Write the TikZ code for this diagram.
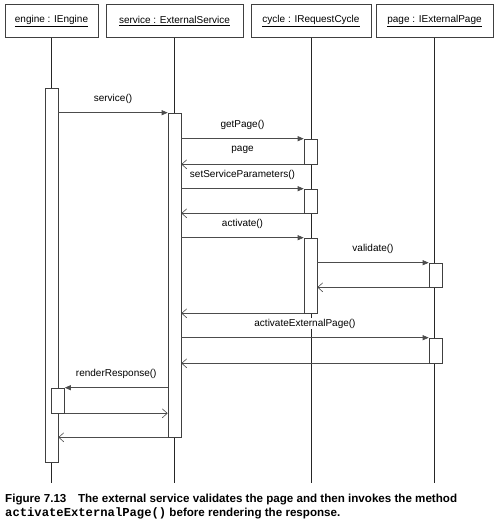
\documentclass[tikz,border=0pt]{standalone}
\usepackage{fontspec}
\setmainfont{Liberation Sans}
\setmonofont{Liberation Mono}
\usetikzlibrary{positioning,arrows.meta}

\begin{document}
\begin{tikzpicture}[
    x=1pt, y=-1pt,
    font=\fontsize{10}{12}\selectfont,
    obj/.style={rectangle, draw=black!75, line width=0.6pt, fill=white,
                minimum width=#1, minimum height=33pt, inner sep=0pt},
    act/.style={rectangle, draw=black!75, line width=0.6pt, fill=white,
                minimum width=13pt, minimum height=#1, inner sep=0pt},
    life/.style={draw=black!85, line width=0.6pt},
    call/.style={-{Triangle[length=6pt,width=5pt]}, draw=black!70, line width=0.6pt},
    ret/.style={-{Straight Barb[length=5pt,width=9pt]}, draw=black!70, line width=0.6pt},
    lbl/.style={midway, yshift=14pt, inner sep=1pt},
    captext/.style={anchor=base west, inner sep=0pt, font=\bfseries\fontsize{11.6}{14}\selectfont}
]
\useasboundingbox (0,0) rectangle (500,529);

% objects
\node[obj=93pt]  (eng) at (51.5,21)  {\underline{engine : IEngine}};
\node[obj=137pt] (svc) at (174.5,21) {\underline{service : ExternalService}};
\node[obj=120pt] (cyc) at (311,21)   {\underline{cycle : IRequestCycle}};
\node[obj=117pt] (pag) at (434.5,21) {\underline{page : IExternalPage}};

% lifelines
\draw[life] (eng.south) -- (eng.south |- 0,483);
\draw[life] (svc.south) -- (svc.south |- 0,483);
\draw[life] (cyc.south) -- (cyc.south |- 0,483);
\draw[life] (pag.south) -- (pag.south |- 0,483);

% activations
\node[act=374pt] (engA) at (51.5,275)  {};
\node[act=324pt] (svcA) at (174.5,275) {};
\node[act=25pt]  (cycA1) at (310.5,151.5) {};
\node[act=24pt]  (cycA2) at (310.5,201)   {};
\node[act=75pt]  (cycA3) at (310.5,275.5) {};
\node[act=24pt]  (pagA1) at (435.5,275)   {};
\node[act=25pt]  (pagA2) at (435.5,350.5) {};
\node[act=25pt]  (engA2) at (58,400.5)    {};

% messages
\draw[call] (engA.east |- svcA.north) -- (svcA.north west) node[lbl] {service()};
\draw[call] (svcA.east |- cycA1.north) -- (cycA1.north west) node[lbl] {getPage()};
\draw[ret] (cycA1.south west) -- (svcA.east |- cycA1.south) node[lbl] {page};
\draw[call] (svcA.east |- cycA2.north) -- (cycA2.north west) node[lbl] {setServiceParameters()};
\draw[ret] (cycA2.south west) -- (svcA.east |- cycA2.south);
\draw[call] (svcA.east |- cycA3.north) -- (cycA3.north west) node[lbl] {activate()};
\draw[call] (cycA3.east |- pagA1.north) -- (pagA1.north west) node[lbl] {validate()};
\draw[ret] (pagA1.south west) -- (cycA3.east |- pagA1.south);
\draw[ret] (cycA3.south west) -- (svcA.east |- cycA3.south);
\draw[call] (svcA.east |- pagA2.north) -- (pagA2.north west) node[lbl, fill=white] {activateExternalPage()};
\draw[ret] (pagA2.south west) -- (svcA.east |- pagA2.south);
\draw[call] (svcA.west |- engA2.north) -- (engA2.north east) node[lbl] {renderResponse()};
\draw[ret] (engA2.south east) -- (svcA.west |- engA2.south);
\draw[ret] (svcA.south west) -- (engA.east |- svcA.south);

% caption
\node[captext] (cap1) at (5,502)
  {Figure 7.13\quad The external service validates the page and then invokes the method};
\node[captext] (cap2) at (5,516)
  {{\fontsize{12.2}{14}\selectfont\texttt{activateExternalPage()}} before rendering the response.};
\end{tikzpicture}
\end{document}
